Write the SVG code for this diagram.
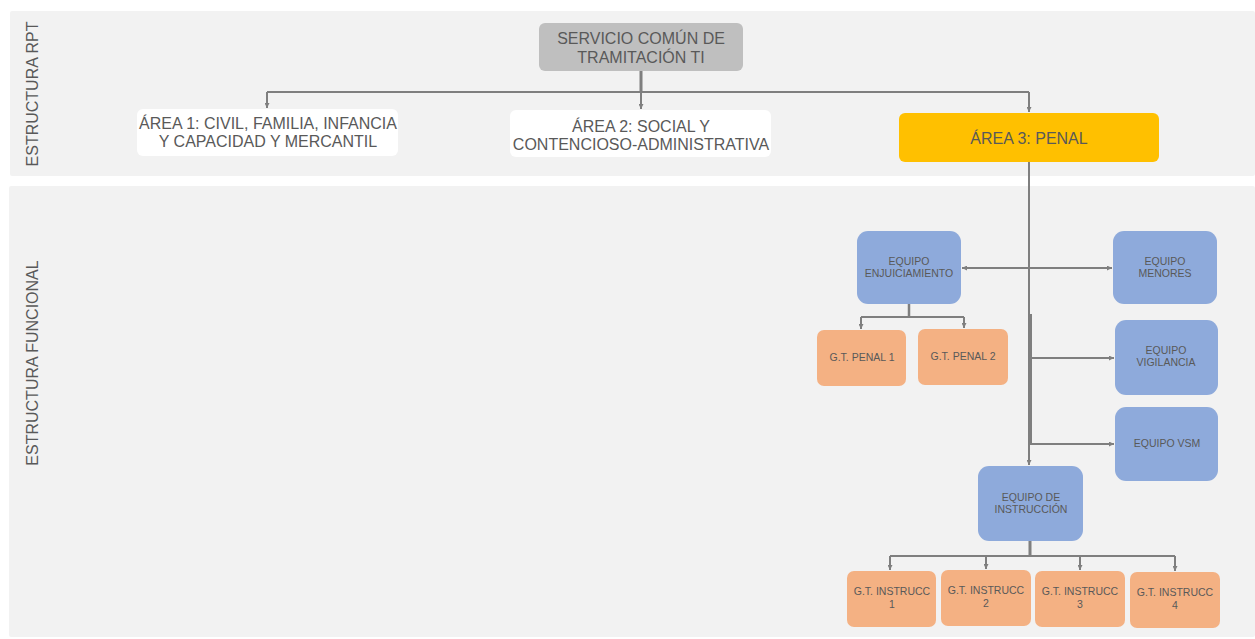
<svg xmlns="http://www.w3.org/2000/svg" width="1255" height="639" viewBox="0 0 1255 639">
<defs>
<style>
.lane{fill:#f2f2f2}
.t{font-family:"Liberation Sans",Arial,sans-serif;fill:#595959;text-anchor:middle}
.big{font-size:16px}
.sm{font-size:10.5px}
.side{font-size:16px}
.c{fill:none;stroke:#7f7f7f;stroke-width:2}
.gray{fill:#bfbfbf}
.white{fill:#ffffff}
.yellow{fill:#ffc000}
.blue{fill:#8eaadb}
.orange{fill:#f4b183}
</style>
<marker id="a" viewBox="0 0 10 10" refX="10" refY="5" markerWidth="5" markerHeight="5" orient="auto" markerUnits="userSpaceOnUse">
<path d="M0,0 L10,5 L0,10 z" fill="#7f7f7f"/>
</marker>
<marker id="as" viewBox="0 0 10 10" refX="0" refY="5" markerWidth="5" markerHeight="5" orient="auto" markerUnits="userSpaceOnUse">
<path d="M10,0 L0,5 L10,10 z" fill="#7f7f7f"/>
</marker>
</defs>
<rect width="1255" height="639" fill="#ffffff"/>
<g id="lanes">
<rect class="lane" x="10" y="11" width="1245" height="165" rx="2"/>
<rect class="lane" x="9" y="186" width="1246" height="451" rx="2"/>
<text class="t side" transform="translate(38,94) rotate(-90)">ESTRUCTURA RPT</text>
<text class="t side" transform="translate(38,363) rotate(-90)">ESTRUCTURA FUNCIONAL</text>
</g>
<g id="connectors">
<path class="c" d="M641,71 V92" style="stroke-width:3"/>
<path class="c" d="M267,92 H1029"/>
<path class="c" d="M267,92 V108" marker-end="url(#a)"/>
<path class="c" d="M641,92 V109" marker-end="url(#a)"/>
<path class="c" d="M1029,92 V112" marker-end="url(#a)"/>
<path class="c" d="M1029,162 V465" marker-end="url(#a)"/>
<path class="c" d="M1031,314 V445"/>
<path class="c" d="M962,268 H1112" marker-start="url(#as)" marker-end="url(#a)"/>
<path class="c" d="M1030,358 H1114" marker-end="url(#a)"/>
<path class="c" d="M1030,444 H1114" marker-end="url(#a)"/>
<path class="c" d="M909,304 V317" style="stroke-width:2.5"/>
<path class="c" d="M861,317 H964"/>
<path class="c" d="M861,317 V329" marker-end="url(#a)"/>
<path class="c" d="M964,317 V328" marker-end="url(#a)"/>
<path class="c" d="M1030,541 V556" style="stroke-width:3"/>
<path class="c" d="M890,556 H1175"/>
<path class="c" d="M890,556 V570" marker-end="url(#a)"/>
<path class="c" d="M986,556 V569" marker-end="url(#a)"/>
<path class="c" d="M1080,556 V570" marker-end="url(#a)"/>
<path class="c" d="M1175,556 V571" marker-end="url(#a)"/>
</g>
<g id="servicio">
<rect class="gray" x="539" y="23" width="204" height="48" rx="6"/>
<text class="t big" x="641" y="44">SERVICIO COMÚN DE</text>
<text class="t big" x="641" y="63">TRAMITACIÓN TI</text>
</g>
<g id="area1">
<rect class="white" x="137" y="109" width="261" height="47" rx="6"/>
<text class="t big" x="268" y="129">ÁREA 1: CIVIL, FAMILIA, INFANCIA</text>
<text class="t big" x="268" y="147">Y CAPACIDAD Y MERCANTIL</text>
</g>
<g id="area2">
<rect class="white" x="510" y="110" width="261" height="47" rx="6"/>
<text class="t big" x="641" y="132">ÁREA 2: SOCIAL Y</text>
<text class="t big" x="641" y="150">CONTENCIOSO-ADMINISTRATIVA</text>
</g>
<g id="area3">
<rect class="yellow" x="899" y="113" width="260" height="49" rx="6"/>
<text class="t big" x="1029" y="144">ÁREA 3: PENAL</text>
</g>
<g id="enjuiciamiento">
<rect class="blue" x="857" y="231" width="104" height="73" rx="11"/>
<text class="t sm" x="909" y="265">EQUIPO</text>
<text class="t sm" x="909" y="277">ENJUICIAMIENTO</text>
</g>
<g id="menores">
<rect class="blue" x="1113" y="231" width="104" height="73" rx="11"/>
<text class="t sm" x="1165" y="265">EQUIPO</text>
<text class="t sm" x="1165" y="277">MENORES</text>
</g>
<g id="vigilancia">
<rect class="blue" x="1115" y="320" width="103" height="75" rx="11"/>
<text class="t sm" x="1166" y="354">EQUIPO</text>
<text class="t sm" x="1166" y="366">VIGILANCIA</text>
</g>
<g id="vsm">
<rect class="blue" x="1115" y="407" width="103" height="74" rx="11"/>
<text class="t sm" x="1167" y="447">EQUIPO VSM</text>
</g>
<g id="instruccion">
<rect class="blue" x="978" y="466" width="105" height="75" rx="11"/>
<text class="t sm" x="1031" y="501">EQUIPO DE</text>
<text class="t sm" x="1031" y="513">INSTRUCCIÓN</text>
</g>
<g id="penal1">
<rect class="orange" x="817" y="330" width="89" height="56" rx="7"/>
<text class="t sm" x="862" y="361">G.T. PENAL 1</text>
</g>
<g id="penal2">
<rect class="orange" x="918" y="329" width="90" height="56" rx="7"/>
<text class="t sm" x="963" y="360">G.T. PENAL 2</text>
</g>
<g id="instrucc1">
<rect class="orange" x="847" y="571" width="89" height="56" rx="7"/>
<text class="t sm" x="892" y="595">G.T. INSTRUCC</text>
<text class="t sm" x="892" y="608">1</text>
</g>
<g id="instrucc2">
<rect class="orange" x="941" y="570" width="90" height="56" rx="7"/>
<text class="t sm" x="986" y="594">G.T. INSTRUCC</text>
<text class="t sm" x="986" y="607">2</text>
</g>
<g id="instrucc3">
<rect class="orange" x="1035" y="571" width="90" height="56" rx="7"/>
<text class="t sm" x="1080" y="595">G.T. INSTRUCC</text>
<text class="t sm" x="1080" y="608">3</text>
</g>
<g id="instrucc4">
<rect class="orange" x="1130" y="572" width="90" height="56" rx="7"/>
<text class="t sm" x="1175" y="596">G.T. INSTRUCC</text>
<text class="t sm" x="1175" y="609">4</text>
</g>
</svg>
